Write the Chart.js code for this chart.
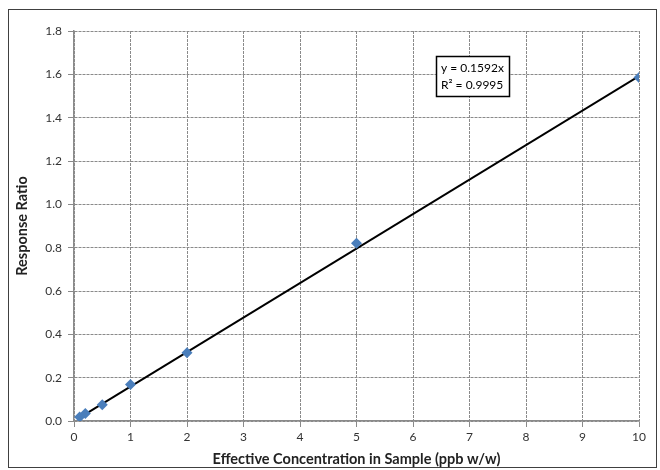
<!DOCTYPE html>
<html>
<head>
<meta charset="utf-8">
<script src="https://cdn.jsdelivr.net/npm/chart.js@4"></script>
<style>
  html, body { margin: 0; padding: 0; background: #fff; }
  #wrap { width: 660px; height: 470px; position: relative; }
</style>
</head>
<body>
<div id="wrap"><canvas id="calib"></canvas></div>
<script>
// calibration points
const concentrations = [0.1, 0.2, 0.5, 1, 2, 5, 10];
const responseRatios = [0.018, 0.035, 0.075, 0.168, 0.315, 0.82, 1.585];

// linear trendline endpoints (y = 0.1592x)
const trendX = [0.1, 10];
const trendY = [0.016, 1.592];

const xTicks = [0, 1, 2, 3, 4, 5, 6, 7, 8, 9, 10];
const yTicks = [0.0, 0.2, 0.4, 0.6, 0.8, 1.0, 1.2, 1.4, 1.6, 1.8];

const equationLines = ['y = 0.1592x', 'R\u00b2 = 0.9995'];

const FONT = "Lato, 'Open Sans', sans-serif";
const GRID = '#8a8a8a';

// outer frame + equation label box
const framePlugin = {
  id: 'frame',
  afterDraw(chart) {
    const ctx = chart.ctx;
    ctx.save();
    ctx.strokeStyle = '#404040';
    ctx.lineWidth = 1;
    ctx.strokeRect(8.5, 9.5, 648, 458);

    ctx.font = '12px ' + FONT;
    ctx.fillStyle = '#fff';
    ctx.fillRect(436, 56, 74, 41);
    ctx.strokeStyle = '#000';
    ctx.lineWidth = 1.5;
    ctx.strokeRect(436.5, 56.5, 73, 40);
    ctx.fillStyle = '#000';
    ctx.textBaseline = 'middle';
    ctx.fillText(equationLines[0], 441, 68);
    ctx.fillText(equationLines[1], 441, 85);
    ctx.restore();
  }
};

new Chart(document.getElementById('calib'), {
  type: 'scatter',
  data: {
    datasets: [
      {
        label: 'Trend',
        type: 'line',
        data: trendX.map((x, i) => ({ x, y: trendY[i] })),
        borderColor: '#000',
        borderWidth: 2,
        pointRadius: 0,
        fill: false,
        order: 2
      },
      {
        label: 'Response Ratio',
        data: concentrations.map((x, i) => ({ x, y: responseRatios[i] })),
        pointStyle: 'rectRot',
        pointRadius: 5.5,
        backgroundColor: '#4a7ebb',
        borderColor: '#4a7ebb',
        borderWidth: 0,
        order: 1
      }
    ]
  },
  options: {
    responsive: true,
    maintainAspectRatio: false,
    animation: false,
    layout: { padding: { left: 10, right: 21, top: 31, bottom: 2 } },
    plugins: {
      legend: { display: false },
      tooltip: { enabled: false }
    },
    scales: {
      x: {
        type: 'linear',
        min: 0,
        max: 10,
        afterBuildTicks: s => { s.ticks = xTicks.map(v => ({ value: v })); },
        afterFit: s => { s.height = 47; },
        grid: { color: GRID, tickLength: 6, tickColor: GRID },
        border: { color: GRID, width: 1.5, dash: [3, 1] },
        ticks: { color: '#333', font: { family: FONT, size: 12 }, padding: 3 },
        title: {
          display: true,
          text: 'Effective Concentration in Sample (ppb w/w)',
          color: '#222',
          font: { family: FONT, size: 14.5, weight: 'bold' },
          padding: { top: 3, bottom: 0 }
        }
      },
      y: {
        min: 0,
        max: 1.8,
        afterBuildTicks: s => { s.ticks = yTicks.map(v => ({ value: v })); },
        afterFit: s => { s.width = 64; },
        grid: { color: GRID, tickLength: 6, tickColor: GRID },
        border: { color: GRID, width: 1.5, dash: [3, 1] },
        ticks: {
          color: '#333',
          font: { family: FONT, size: 12 },
          padding: 6,
          callback: v => v.toFixed(1)
        },
        title: {
          display: true,
          text: 'Response Ratio',
          color: '#222',
          font: { family: FONT, size: 14.5, weight: 'bold' },
          padding: { top: 4, bottom: 0 }
        }
      }
    }
  },
  plugins: [framePlugin]
});
</script>
</body>
</html>
